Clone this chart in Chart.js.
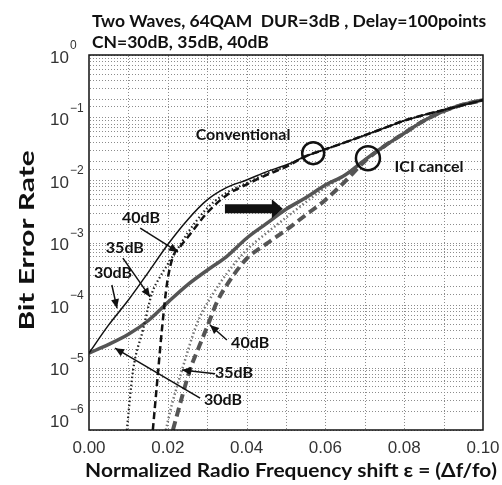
<!DOCTYPE html>
<html>
<head>
<meta charset="utf-8">
<script src="https://cdn.jsdelivr.net/npm/chart.js@4.4.0/dist/chart.umd.min.js"></script>
<style>
  body { margin: 0; background: #fff; }
</style>
</head>
<body>
<canvas id="ber" width="502" height="485"></canvas>
<script>
// x positions shared by the full-range curves
const xs = [0, 0.005, 0.01, 0.015, 0.02, 0.025, 0.03, 0.035, 0.04, 0.045, 0.05,
  0.055, 0.06, 0.065, 0.07, 0.075, 0.08, 0.085, 0.09, 0.095, 0.1];

// conventional receiver
const conv30 = [1.7e-5, 4.8e-5, 1.2e-4, 3.3e-4, 9.3e-4, 2.3e-3, 4.8e-3, 7.6e-3, 1.0e-2, 1.35e-2, 1.74e-2,
  2.4e-2, 3.1e-2, 4.0e-2, 5.2e-2, 6.8e-2, 8.9e-2, 0.11, 0.132, 0.158, 0.19];
const conv35X = [0.0096, 0.0112, 0.0137, 0.016, 0.018, 0.02, 0.023, 0.025, 0.03, 0.035, 0.04, 0.045, 0.05,
  0.055, 0.06, 0.065, 0.07, 0.075, 0.08, 0.085, 0.09, 0.095, 0.1];
const conv35 = [1e-6, 9.1e-6, 4.0e-5, 1.55e-4, 2.8e-4, 4.5e-4, 8.9e-4, 1.41e-3, 3.55e-3, 6.3e-3, 8.9e-3, 1.26e-2, 1.66e-2,
  2.4e-2, 3.1e-2, 4.0e-2, 5.2e-2, 6.8e-2, 8.9e-2, 0.11, 0.132, 0.158, 0.19];
const conv40X = [0.0162, 0.0175, 0.0185, 0.0198, 0.0213, 0.0231, 0.025, 0.03, 0.035, 0.04, 0.045, 0.05,
  0.055, 0.06, 0.065, 0.07, 0.075, 0.08, 0.085, 0.09, 0.095, 0.1];
const conv40 = [1e-6, 8.1e-6, 4.0e-5, 2.2e-4, 5.9e-4, 8.5e-4, 1.2e-3, 3.0e-3, 5.75e-3, 8.5e-3, 1.2e-2, 1.62e-2,
  2.4e-2, 3.1e-2, 4.0e-2, 5.2e-2, 6.8e-2, 8.9e-2, 0.11, 0.132, 0.158, 0.19];

// ICI cancel receiver
const ici30 = [1.7e-5, 2.34e-5, 3.4e-5, 5.6e-5, 1.1e-4, 2.1e-4, 3.6e-4, 6.0e-4, 1.17e-3, 2.0e-3, 3.4e-3,
  5.2e-3, 8.3e-3, 1.2e-2, 2.1e-2, 3.5e-2, 5.6e-2, 8.9e-2, 0.126, 0.162, 0.19];
const ici35X = [0.0195, 0.021, 0.0236, 0.0274, 0.031, 0.035, 0.04, 0.045, 0.05, 0.055, 0.06,
  0.065, 0.07, 0.075, 0.08, 0.085, 0.09, 0.095, 0.1];
const ici35 = [1e-6, 2.5e-6, 9.1e-6, 5.0e-5, 1.35e-4, 3.2e-4, 7.6e-4, 1.41e-3, 2.5e-3, 4.4e-3, 7.6e-3,
  1.2e-2, 2.1e-2, 3.5e-2, 5.6e-2, 8.9e-2, 0.126, 0.162, 0.19];
const ici40X = [0.0213, 0.0235, 0.0256, 0.028, 0.03, 0.0325, 0.035, 0.04, 0.045, 0.05, 0.055, 0.06, 0.065, 0.07,
  0.075, 0.08, 0.085, 0.09, 0.095, 0.1];
const ici40 = [1e-6, 3.2e-6, 9.1e-6, 2.2e-5, 4.5e-5, 1.12e-4, 2.1e-4, 5.5e-4, 9.5e-4, 1.58e-3, 2.75e-3, 4.8e-3, 9.5e-3, 2.0e-2,
  3.5e-2, 5.6e-2, 8.9e-2, 0.126, 0.162, 0.19];

const xGridStep = 0.01;
const xTickLabels = ["0.00", "0.02", "0.04", "0.06", "0.08", "0.10"];
const yExponents = [0, -1, -2, -3, -4, -5, -6];
const titleLines = ["Two Waves, 64QAM  DUR=3dB , Delay=100points", "CN=30dB, 35dB, 40dB"];
const xTitle = "Normalized Radio Frequency shift \u03b5 = (\u0394f/fo)";
const yTitle = "Bit Error Rate";

// annotations, in data units (x, log10 BER)
const notes = [
  { text: "Conventional", x: 0.0391, lg: -1.28 },
  { text: "ICI cancel", x: 0.0863, lg: -1.79 },
  { text: "40dB", x: 0.0132, lg: -2.61 },
  { text: "35dB", x: 0.0091, lg: -3.09 },
  { text: "30dB", x: 0.0061, lg: -3.49 },
  { text: "40dB", x: 0.0409, lg: -4.61 },
  { text: "35dB", x: 0.0368, lg: -5.09 },
  { text: "30dB", x: 0.034, lg: -5.52 },
];
const pointers = [
  { from: [0.0130, -2.77], to: [0.0226, -3.15] },
  { from: [0.0086, -3.25], to: [0.0155, -3.87] },
  { from: [0.0058, -3.68], to: [0.0071, -4.05] },
  { from: [0.0350, -4.56], to: [0.0307, -4.32] },
  { from: [0.0320, -5.10], to: [0.0236, -5.04] },
  { from: [0.0282, -5.49], to: [0.0066, -4.69] },
];
const rings = [
  { x: 0.0569, lg: -1.57, r: 11 },
  { x: 0.0708, lg: -1.65, r: 12 },
];
const shiftArrow = { from: [0.0345, -2.46], to: [0.0492, -2.46] };

const pts = (xv, yv) => xv.map((v, i) => ({ x: v, y: yv[i] }));

const boldFont = "Lato, 'Open Sans', sans-serif";
const tickFont = "'Liberation Sans', Arial, sans-serif";

function arrowHead(ctx, x0, y0, x1, y1, len, half) {
  const ang = Math.atan2(y1 - y0, x1 - x0);
  ctx.beginPath();
  ctx.moveTo(x1, y1);
  ctx.lineTo(x1 - len * Math.cos(ang) + half * Math.sin(ang), y1 - len * Math.sin(ang) - half * Math.cos(ang));
  ctx.lineTo(x1 - len * Math.cos(ang) - half * Math.sin(ang), y1 - len * Math.sin(ang) + half * Math.cos(ang));
  ctx.closePath();
  ctx.fill();
}

const paper = {
  id: "paper",
  beforeDatasetsDraw(chart) {
    // dotted matlab style grid, drawn dot by dot
    const { ctx, chartArea: a, scales: { x, y } } = chart;
    ctx.save();
    ctx.fillStyle = "#8c8c8c";
    for (let v = xGridStep; v < x.max - 1e-9; v += xGridStep) {
      const px = Math.round(x.getPixelForValue(v));
      for (let py = a.top + 1; py < a.bottom; py += 3) ctx.fillRect(px, py, 1, 1);
    }
    y.ticks.forEach((t) => {
      const py = Math.round(y.getPixelForValue(t.value));
      for (let px = a.left + 1; px < a.right; px += 3) ctx.fillRect(px, py, 1, 1);
    });
    ctx.restore();
  },
  afterDraw(chart) {
    const { ctx, chartArea: a, scales: { x, y } } = chart;
    const at = (xv, lg) => [x.getPixelForValue(xv), y.getPixelForValue(Math.pow(10, lg))];
    ctx.save();

    // plot box
    ctx.strokeStyle = "#111";
    ctx.lineWidth = 1.5;
    ctx.strokeRect(a.left, a.top, a.right - a.left, a.bottom - a.top);

    // x tick labels
    ctx.fillStyle = "#333";
    ctx.textBaseline = "middle";
    ctx.textAlign = "center";
    ctx.font = "17px " + tickFont;
    xTickLabels.forEach((t) => {
      ctx.fillText(t, x.getPixelForValue(parseFloat(t)), a.bottom + 18);
    });

    // y tick labels as 10 with exponent
    yExponents.forEach((e) => {
      let py = y.getPixelForValue(Math.pow(10, e)) + 3;
      if (py > a.bottom - 6) py = a.bottom - 8;
      ctx.font = "17px " + tickFont;
      ctx.textAlign = "right";
      ctx.fillText("10", a.left - 20, py);
      ctx.font = "12px " + tickFont;
      ctx.textAlign = "left";
      ctx.fillText(e === 0 ? "0" : "\u2212" + (-e), a.left - 19, py - 12);
    });

    // axis titles (slightly stretched like the source figure)
    ctx.fillStyle = "#111";
    ctx.textAlign = "center";
    ctx.font = "bold 19px " + boldFont;
    ctx.save();
    ctx.translate(291, 471);
    ctx.scale(1.1, 1);
    ctx.fillText(xTitle, 0, 0);
    ctx.restore();
    ctx.save();
    ctx.translate(27, (a.top + a.bottom) / 2 - 2);
    ctx.rotate(-Math.PI / 2);
    ctx.scale(1.42, 1);
    ctx.font = "bold 21px " + boldFont;
    ctx.fillText(yTitle, 0, 0);
    ctx.restore();

    // title
    ctx.font = "bold 17.5px " + boldFont;
    ctx.textAlign = "left";
    ctx.fillText(titleLines[0], a.left + 3, a.top - 34);
    ctx.fillText(titleLines[1], a.left + 3, a.top - 13);

    // text notes
    ctx.font = "bold 16px " + boldFont;
    ctx.textAlign = "center";
    notes.forEach((n) => {
      const [px, py] = at(n.x, n.lg);
      ctx.fillText(n.text, px, py);
    });

    // pointer arrows
    ctx.strokeStyle = "#111";
    ctx.lineWidth = 1.5;
    pointers.forEach((p) => {
      const [x0, y0] = at(p.from[0], p.from[1]);
      const [x1, y1] = at(p.to[0], p.to[1]);
      ctx.beginPath();
      ctx.moveTo(x0, y0);
      ctx.lineTo(x1, y1);
      ctx.stroke();
      arrowHead(ctx, x0, y0, x1, y1, 9, 4);
    });

    // circles on the curves
    ctx.lineWidth = 2.5;
    rings.forEach((r) => {
      const [px, py] = at(r.x, r.lg);
      ctx.beginPath();
      ctx.arc(px, py, r.r, 0, Math.PI * 2);
      ctx.stroke();
    });

    // big arrow
    const [sx, sy] = at(shiftArrow.from[0], shiftArrow.from[1]);
    const [tx] = at(shiftArrow.to[0], shiftArrow.to[1]);
    const bx = tx - 11;
    ctx.beginPath();
    ctx.moveTo(sx, sy - 4.5);
    ctx.lineTo(bx, sy - 4.5);
    ctx.lineTo(bx, sy - 9.5);
    ctx.lineTo(tx, sy);
    ctx.lineTo(bx, sy + 9.5);
    ctx.lineTo(bx, sy + 4.5);
    ctx.lineTo(sx, sy + 4.5);
    ctx.closePath();
    ctx.fill();

    ctx.restore();
  },
};

const line = (data, color, width, dash) => ({
  data: data,
  borderColor: color,
  borderWidth: width,
  borderDash: dash,
  pointRadius: 0,
  fill: false,
  cubicInterpolationMode: "monotone",
});

new Chart(document.getElementById("ber"), {
  type: "line",
  plugins: [paper],
  data: {
    datasets: [
      line(pts(xs, conv30), "#111", 1.5, []),
      line(pts(conv35X, conv35), "#222", 2.2, [1.5, 2.5]),
      line(pts(conv40X, conv40), "#111", 2.5, [7, 4]),
      line(pts(xs, ici30), "#555", 3.5, []),
      line(pts(ici35X, ici35), "#777", 2.5, [1.5, 2.5]),
      line(pts(ici40X, ici40), "#555", 4, [9, 5]),
    ],
  },
  options: {
    responsive: false,
    animation: false,
    layout: { padding: { top: 55, right: 19, left: 0, bottom: 0 } },
    plugins: { legend: { display: false }, tooltip: { enabled: false } },
    scales: {
      x: {
        type: "linear",
        min: 0,
        max: 0.1,
        afterFit: (s) => { s.height = 55; },
        grid: { display: false },
        border: { display: false },
        ticks: { display: false },
      },
      y: {
        type: "logarithmic",
        min: 1e-6,
        max: 1,
        afterFit: (s) => { s.width = 89; },
        grid: { display: false },
        border: { display: false },
        ticks: { display: false, autoSkip: false },
      },
    },
  },
});
</script>
</body>
</html>
